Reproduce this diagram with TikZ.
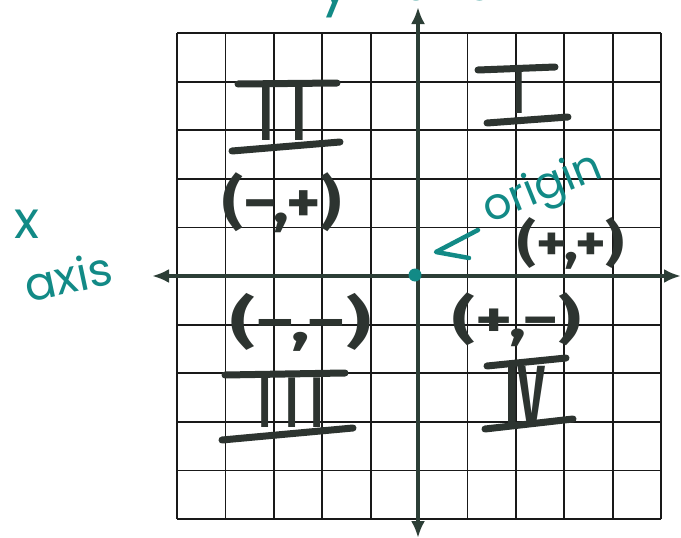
\documentclass[tikz,border=0pt]{standalone}
\usepackage{fontspec}
\usetikzlibrary{arrows.meta}
\newfontfamily\hand{Poppins}
\newfontfamily\numfont{Fira Sans}
\definecolor{tealink}{RGB}{18,138,134}
\definecolor{ink}{RGB}{45,52,48}
\definecolor{axisink}{RGB}{44,62,54}
\begin{document}
\begin{tikzpicture}[x=1pt,y=-1pt,
  gridline/.style={black!90,line width=1.8pt},
  axisline/.style={axisink,line width=4pt,{Latex[length=17pt,width=14pt]}-{Latex[length=17pt,width=14pt]}},
  numeral/.style={text=ink,inner sep=0pt},
  numbar/.style={ink,line width=7pt,line cap=round},
  pair/.style={text=ink,inner sep=0pt,transform shape},
  handtext/.style={text=tealink,inner sep=0pt},
  handstroke/.style={tealink,line width=4.5pt,line cap=round,line join=round}]
\useasboundingbox (0,0) rectangle (681,538);
\fill[white] (0,0) rectangle (681,538);
% grid
\foreach \i in {0,...,10}{
  \draw[gridline] ({177+48.4*\i},33) -- ({177+48.4*\i},519);
  \draw[gridline] (177,{33+48.6*\i}) -- (661,{33+48.6*\i});
}
% axes
\coordinate (xl) at (152,276);
\coordinate (xr) at (681,276);
\coordinate (yt) at (418,7);
\coordinate (yb) at (418,538);
\draw[axisline] (xl) -- (xr);
\draw[axisline] (yb) -- (yt);
% origin dot
\fill[tealink] (415,275) circle (6.5pt);
\coordinate (origin) at (415,275);
% quadrant numerals
\node[numeral,font=\numfont\fontsize{60}{60}\selectfont] (q1) at (519,93) {I};
\draw[numbar] (478,70) -- (555,67);
\draw[numbar] (487,123) -- (568,117);
\node[numeral,font=\numfont\fontsize{80}{80}\selectfont] (q2) at (283,113) {I\kern9pt I};
\draw[numbar] (238,84) -- (337,83);
\draw[numbar] (232,151) -- (340,142);
\node[numeral,font=\numfont\fontsize{72}{72}\selectfont] (q3) at (291,403) {I\kern6pt I\kern3pt I};
\draw[numbar] (225,375) -- (345,373);
\draw[numbar] (222,440) -- (353,428);
\node[numeral,font=\numfont\bfseries\fontsize{84}{84}\selectfont,xscale=0.55,transform shape] (q4) at (525,395) {IV};
\draw[numbar] (487,366) -- (566,358);
\draw[numbar] (485,429) -- (573,419);
% sign pairs
\node[pair,font=\numfont\bfseries\fontsize{58}{58}\selectfont,xscale=1.12] (p2) at (282,203) {(−,+)};
\node[pair,font=\numfont\bfseries\fontsize{50}{50}\selectfont,xscale=1.16] (p1) at (571,243) {(+,+)};
\node[pair,font=\numfont\bfseries\fontsize{56}{56}\selectfont,xscale=1.37] (p3) at (301,322) {(−,−)};
\node[pair,font=\numfont\bfseries\fontsize{52}{52}\selectfont,xscale=1.35] (p4) at (517,320) {(+,−)};
% origin label
\node[handtext,font=\hand\fontsize{44}{44}\selectfont,rotate=22] (orig) at (543,190) {origin};
\coordinate (arrtip) at (436,252);
\coordinate (arrup) at (478,230);
\coordinate (arrlo) at (469,258);
\draw[handstroke] (arrup) -- (arrtip) -- (arrlo);
% axis labels
\node[handtext,font=\hand\fontsize{52}{52}\selectfont] (xlab) at (27,224) {x};
\node[handtext,font=\hand\fontsize{46}{46}\selectfont,rotate=12] (xaxis) at (68,276) {axis};
\node[handtext,font=\hand\fontsize{56}{56}\selectfont,anchor=base] (ylab) at (335,4) {y};
\node[handtext,font=\hand\fontsize{46}{46}\selectfont,anchor=base] (yaxis) at (447,0) {axis};
\end{tikzpicture}
\end{document}
